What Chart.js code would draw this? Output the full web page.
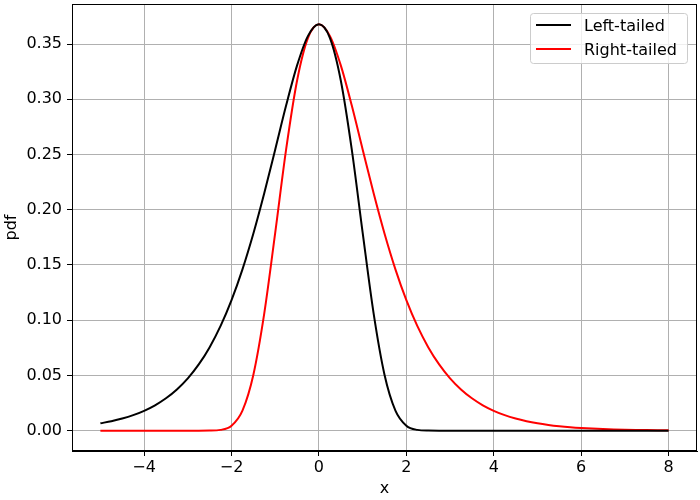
<!DOCTYPE html>
<html>
<head>
<meta charset="utf-8">
<script src="https://cdn.jsdelivr.net/npm/chart.js@4"></script>
<style>
  body { margin: 0; background: #fff; }
  canvas { display: block; }
</style>
</head>
<body>
<canvas id="chart" width="700" height="500"></canvas>
<script>
const X_VALUES = [
  -5, -4.75, -4.5, -4.25, -4, -3.75, -3.5, -3.25, -3, -2.75, -2.5, -2.25, -2,
  -1.75, -1.5, -1.25, -1, -0.75, -0.5, -0.25, 0, 0.25, 0.5, 0.75, 1, 1.25,
  1.5, 1.75, 2, 2.25, 2.5, 2.75, 3, 3.25, 3.5, 3.75, 4, 4.25, 4.5, 4.75, 5,
  5.25, 5.5, 5.75, 6, 6.25, 6.5, 6.75, 7, 7.25, 7.5, 7.75, 8,
];
const LEFT_TAILED = [
  0.00669, 0.00858, 0.01099, 0.01406, 0.01798, 0.02297, 0.0293, 0.0373,
  0.04737, 0.05997, 0.07562, 0.09486, 0.1182, 0.14606, 0.17851, 0.21513,
  0.25465, 0.29454, 0.3307, 0.35744, 0.36788, 0.35559, 0.31705, 0.25489,
  0.17937, 0.10641, 0.05071, 0.01823, 0.00456, 0.00072, 0.00006, 0,
  0, 0, 0, 0, 0, 0, 0, 0, 0, 0, 0, 0, 0, 0, 0, 0, 0, 0, 0, 0, 0,
];
const RIGHT_TAILED = [
  0, 0, 0, 0, 0, 0, 0, 0, 0, 0, 0.00006, 0.00072, 0.00456, 0.01823,
  0.05071, 0.10641, 0.17937, 0.25489, 0.31705, 0.35559, 0.36788, 0.35744,
  0.3307, 0.29454, 0.25465, 0.21513, 0.17851, 0.14606, 0.1182, 0.09486,
  0.07562, 0.05997, 0.04737, 0.0373, 0.0293, 0.02297, 0.01798, 0.01406,
  0.01099, 0.00858, 0.00669, 0.00522, 0.00407, 0.00317, 0.00247, 0.00193,
  0.0015, 0.00117, 0.00091, 0.00071, 0.00055, 0.00043, 0.00034,
];
const SERIES_NAMES = ["Left-tailed", "Right-tailed"];
const SERIES_COLORS = ["#000000", "#ff0000"];
const X_TICKS = [-4, -2, 0, 2, 4, 6, 8];
const Y_TICKS = [0, 0.05, 0.1, 0.15, 0.2, 0.25, 0.3, 0.35];

const FONT = "'DejaVu Sans', sans-serif";
const FONT_SIZE = 16;

function toPoints(ys) {
  return X_VALUES.map((x, i) => ({ x: x, y: ys[i] }));
}

function makeDataset(label, color, ys) {
  return {
    label: label,
    data: toPoints(ys),
    borderColor: color,
    backgroundColor: color,
    borderWidth: 2,
    pointRadius: 0,
    showLine: true,
    cubicInterpolationMode: "monotone",
    fill: false,
  };
}

// frame around the plot plus the legend box inside it
const framePlugin = {
  id: "frame",
  afterDraw(chart) {
    const ctx = chart.ctx;
    const a = chart.chartArea;
    ctx.save();
    ctx.strokeStyle = "#000";
    ctx.lineWidth = 1;
    ctx.strokeRect(a.left + 0.5, a.top + 0.5, a.right - a.left - 1, a.bottom - a.top - 1);

    const boxW = 157;
    const boxH = 50;
    const bx = a.right - 10 - boxW;
    const by = a.top + 9;
    ctx.fillStyle = "rgba(255,255,255,0.8)";
    ctx.strokeStyle = "#cccccc";
    ctx.beginPath();
    ctx.roundRect(bx + 0.5, by + 0.5, boxW, boxH, 3);
    ctx.fill();
    ctx.stroke();

    ctx.font = FONT_SIZE + "px " + FONT;
    ctx.textBaseline = "middle";
    chart.data.datasets.forEach((ds, i) => {
      const y = by + 12 + i * 24;
      ctx.strokeStyle = ds.borderColor;
      ctx.lineWidth = 2;
      ctx.beginPath();
      ctx.moveTo(bx + 6, y);
      ctx.lineTo(bx + 41, y);
      ctx.stroke();
      ctx.fillStyle = "#000";
      ctx.fillText(ds.label, bx + 54, y + 2);
    });
    ctx.restore();
  },
};

new Chart(document.getElementById("chart"), {
  type: "scatter",
  data: {
    datasets: [
      makeDataset(SERIES_NAMES[0], SERIES_COLORS[0], LEFT_TAILED),
      makeDataset(SERIES_NAMES[1], SERIES_COLORS[1], RIGHT_TAILED),
    ],
  },
  options: {
    responsive: false,
    animation: false,
    devicePixelRatio: 1,
    layout: { padding: { top: 4, right: 3, left: 0, bottom: 0 } },
    scales: {
      x: {
        type: "linear",
        min: -5.65,
        max: 8.65,
        afterBuildTicks: (scale) => {
          scale.ticks = X_TICKS.map((v) => ({ value: v }));
        },
        afterFit: (scale) => {
          scale.height = 49;
          scale.paddingLeft = 0;
          scale.paddingRight = 0;
        },
        ticks: {
          color: "#000",
          font: { family: FONT, size: FONT_SIZE },
          padding: 2,
          maxRotation: 0,
          callback: (v) => String(v).replace("-", "\u2212"),
        },
        grid: { color: "#b0b0b0", lineWidth: 1, tickLength: 5, tickColor: "#000" },
        border: { color: "#000" },
        title: {
          display: true,
          text: "x",
          color: "#000",
          font: { family: FONT, size: FONT_SIZE },
          padding: { top: 0, bottom: 2 },
        },
      },
      y: {
        type: "linear",
        min: -0.0184,
        max: 0.3863,
        afterBuildTicks: (scale) => {
          scale.ticks = Y_TICKS.map((v) => ({ value: v }));
        },
        afterFit: (scale) => {
          scale.width = 72;
          scale.paddingTop = 0;
          scale.paddingBottom = 0;
        },
        ticks: {
          color: "#000",
          font: { family: FONT, size: FONT_SIZE },
          padding: 5,
          callback: (v) => v.toFixed(2),
        },
        grid: { color: "#b0b0b0", lineWidth: 1, tickLength: 5, tickColor: "#000" },
        border: { color: "#000" },
        title: {
          display: true,
          text: "pdf",
          color: "#000",
          font: { family: FONT, size: FONT_SIZE },
          padding: { top: 2, bottom: 2 },
        },
      },
    },
    plugins: {
      legend: { display: false },
      tooltip: { enabled: false },
    },
  },
  plugins: [framePlugin],
});
</script>
</body>
</html>
